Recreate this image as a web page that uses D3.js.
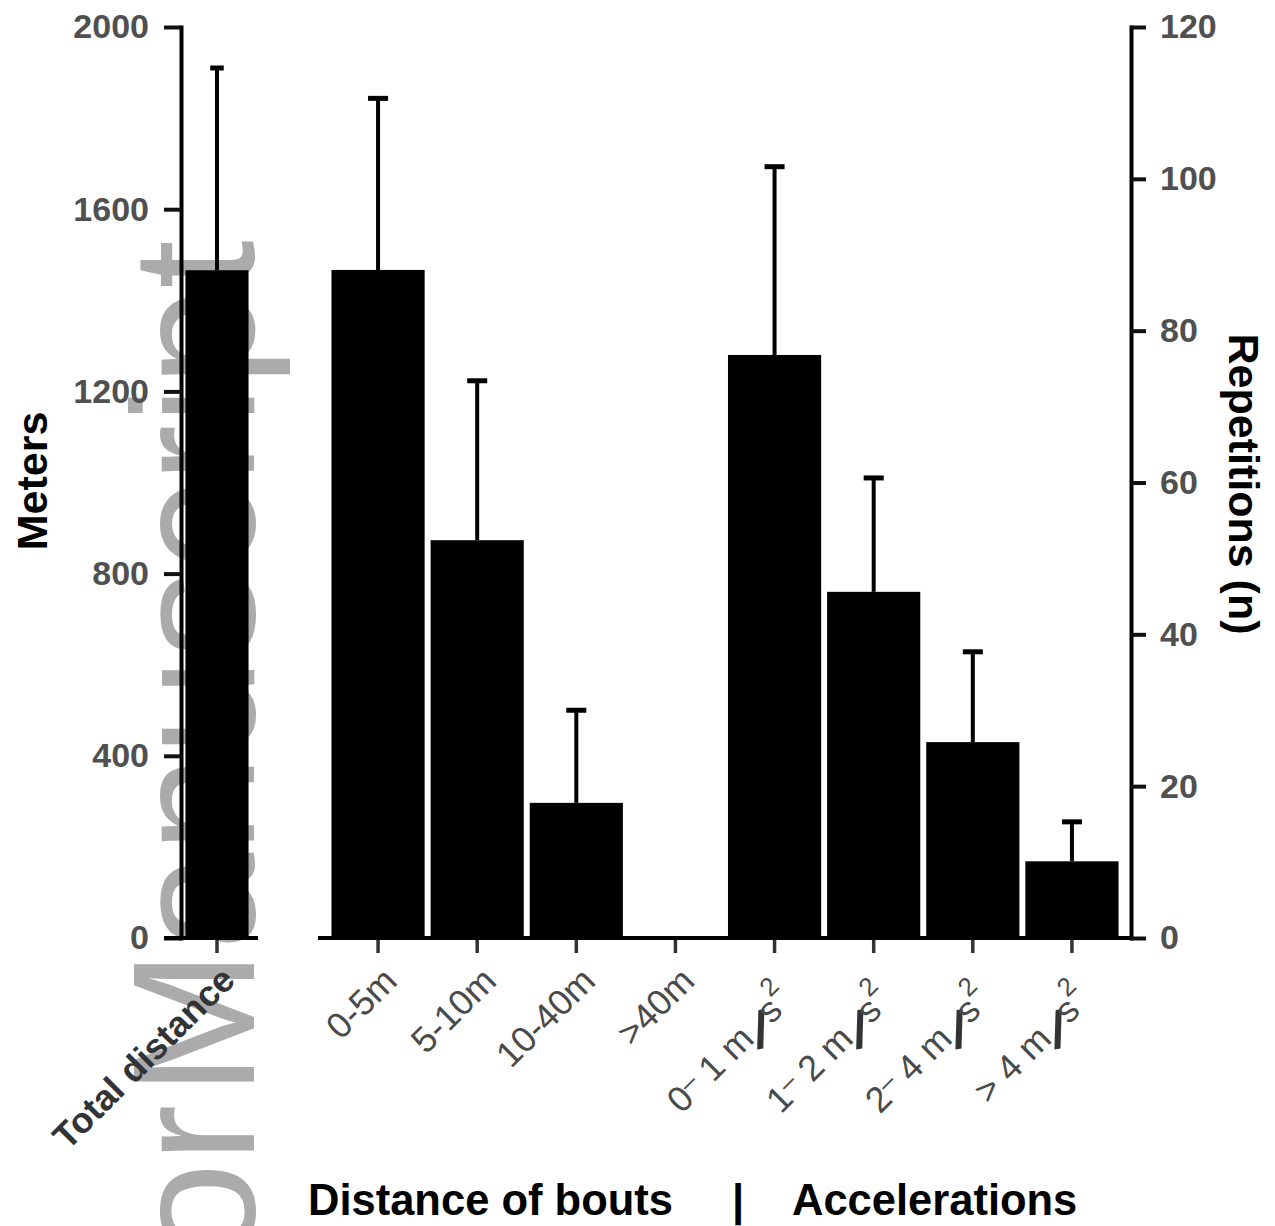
<!DOCTYPE html>
<html><head><meta charset="utf-8">
<script src="https://cdn.jsdelivr.net/npm/d3@7"></script>
<style>body{margin:0;background:#fff;} svg{display:block;}</style>
</head><body>
<svg id="chart" width="1275" height="1226"></svg>
<script>
// ---- data ----
const totalCategories = ["Total distance"];
const totalMeters = [1466];
const totalSD = [444];

const boutCategories = ["0-5m", "5-10m", "10-40m", ">40m", "0-1", "1-2", "2-4", ">4"];
const boutRepetitions = [88.0, 52.4, 17.8, 0, 76.8, 45.6, 25.8, 10.1];
const boutSD = [22.6, 21.0, 12.2, 0, 24.8, 15.0, 11.9, 5.2];
const accelLabelParts = {
  "0-1": ["0", "1"], "1-2": ["1", "2"], "2-4": ["2", "4"], ">4": [">", "4"]
};

const meterTicks = [0, 400, 800, 1200, 1600, 2000];
const repTicks = [0, 20, 40, 60, 80, 100, 120];

// ---- layout ----
const svg = d3.select("#chart");
const yBase = 938, yTop = 27;
const yLeft = d3.scaleLinear().domain([0, 2000]).range([yBase, yTop]);
const yRight = d3.scaleLinear().domain([0, 120]).range([yBase, yTop]);
const xLeft = d3.scaleBand().domain(totalCategories).range([176, 258]).paddingInner(0).paddingOuter(0.15);
const xRight = d3.scaleBand().domain(boutCategories).range([328.5, 1121.5]).paddingInner(0.06).paddingOuter(0.03);

// watermark
svg.append("text")
  .attr("transform", "translate(254,240) rotate(-90)")
  .attr("text-anchor", "end")
  .attr("font-family", "Liberation Sans, Arial, sans-serif")
  .attr("font-size", 175)
  .attr("word-spacing", -40)
  .attr("fill", "#ababab")
  .text("Author Manuscript");

// bars
const capFrac = 0.215;
function drawBars(g, cats, vals, sds, x, y) {
  g.selectAll("rect.bar").data(cats).join("rect")
    .attr("class", "bar")
    .attr("x", d => x(d)).attr("width", x.bandwidth())
    .attr("y", (d, i) => y(vals[i])).attr("height", (d, i) => yBase - y(vals[i]))
    .attr("fill", "#000");
  const eb = g.selectAll("g.err").data(cats.filter((d, i) => sds[i] > 0)).join("g").attr("class", "err");
  eb.append("line")
    .attr("x1", d => x(d) + x.bandwidth() / 2).attr("x2", d => x(d) + x.bandwidth() / 2)
    .attr("y1", d => y(vals[cats.indexOf(d)]))
    .attr("y2", d => y(vals[cats.indexOf(d)] + sds[cats.indexOf(d)]))
    .attr("stroke", "#000").attr("stroke-width", 4);
  eb.append("line")
    .attr("x1", d => x(d) + x.bandwidth() / 2 - x.bandwidth() * capFrac / 2)
    .attr("x2", d => x(d) + x.bandwidth() / 2 + x.bandwidth() * capFrac / 2)
    .attr("y1", d => y(vals[cats.indexOf(d)] + sds[cats.indexOf(d)]))
    .attr("y2", d => y(vals[cats.indexOf(d)] + sds[cats.indexOf(d)]))
    .attr("stroke", "#000").attr("stroke-width", 5);
}
drawBars(svg.append("g"), totalCategories, totalMeters, totalSD, xLeft, yLeft);
drawBars(svg.append("g"), boutCategories, boutRepetitions, boutSD, xRight, yRight);

// y axes
const tickFont = "Liberation Sans, Arial, sans-serif";
const gL = svg.append("g").attr("transform", "translate(181,0)")
  .call(d3.axisLeft(yLeft).tickValues(meterTicks).tickSize(17).tickSizeOuter(0).tickPadding(15).tickFormat(d3.format("d")));
const gR = svg.append("g").attr("transform", "translate(1131,0)")
  .call(d3.axisRight(yRight).tickValues(repTicks).tickSize(15).tickSizeOuter(0).tickPadding(14).tickFormat(d3.format("d")));
[gL, gR].forEach(g => {
  g.select(".domain").attr("stroke", "#000").attr("stroke-width", 4).attr("stroke-linecap", "square");
  g.selectAll(".tick line").attr("stroke", "#111").attr("stroke-width", 4);
  g.selectAll(".tick text").attr("font-family", tickFont).attr("font-weight", "bold")
    .attr("font-size", 34).attr("fill", "#505050");
});

// x baselines
const gXL = svg.append("g").attr("transform", `translate(0,${yBase})`)
  .call(d3.axisBottom(xLeft).tickSize(15).tickSizeOuter(0).tickFormat(""));
const gXR = svg.append("g").attr("transform", `translate(0,${yBase})`)
  .call(d3.axisBottom(xRight).tickSize(15).tickSizeOuter(0).tickFormat(""));
[gXL, gXR].forEach(g => {
  g.select(".domain").attr("stroke", "none");
  g.selectAll(".tick line").attr("stroke", "#333").attr("stroke-width", 3.5);
});
svg.append("line").attr("x1", 164).attr("x2", 258).attr("y1", yBase).attr("y2", yBase)
  .attr("stroke", "#000").attr("stroke-width", 4);
svg.append("line").attr("x1", 318).attr("x2", 1131).attr("y1", yBase).attr("y2", yBase)
  .attr("stroke", "#000").attr("stroke-width", 4);

// x tick labels
const labRot = -45;
svg.append("text")
  .attr("transform", `translate(${xLeft("Total distance") + xLeft.bandwidth() / 2 + 20},${yBase + 44}) rotate(${labRot})`)
  .attr("text-anchor", "end").attr("font-family", tickFont).attr("font-weight", "bold")
  .attr("font-size", 36).attr("fill", "#333").text("Total distance");

boutCategories.forEach(c => {
  const cx = xRight(c) + xRight.bandwidth() / 2;
  const acc = !!accelLabelParts[c];
  const dx = acc ? 20 : 21, dy = acc ? 64 : 45;
  const t = svg.append("text")
    .attr("transform", `translate(${cx + dx},${yBase + dy}) rotate(${labRot})`)
    .attr("text-anchor", "end").attr("font-family", tickFont)
    .attr("font-size", 36).attr("fill", "#4a4a4a");
  if (acc) {
    const [a, b] = accelLabelParts[c];
    if (a === ">") {
      t.append("tspan").text("> ");
    } else {
      t.append("tspan").text(a);
      t.append("tspan").attr("font-size", 26).attr("dy", -10).text("–");
      t.append("tspan").attr("dy", 10).text(" ");
    }
    t.append("tspan").text(b + " m");
    t.append("tspan").attr("font-size", 52).attr("font-weight", "bold").attr("rotate", 36)
      .attr("dx", -5).attr("dy", 6).attr("fill", "#333").text("/");
    t.append("tspan").attr("dx", 13).attr("dy", -6).text("s");
    t.append("tspan").attr("font-size", 26).attr("dy", -20).text("2");
  } else {
    t.text(c);
  }
});

// bottom titles
const titleFont = "Liberation Sans, Arial, sans-serif";
svg.append("text").attr("x", 308).attr("y", 1215).attr("font-family", titleFont).attr("font-weight", "bold")
  .attr("font-size", 43.5).attr("fill", "#000").text("Distance of bouts");
svg.append("text").attr("x", 738).attr("y", 1215).attr("text-anchor", "middle").attr("font-family", titleFont).attr("font-weight", "bold")
  .attr("font-size", 43.5).attr("fill", "#000").text("|");
svg.append("text").attr("x", 792).attr("y", 1215).attr("font-family", titleFont).attr("font-weight", "bold")
  .attr("font-size", 43.5).attr("fill", "#000").text("Accelerations");

// axis titles
svg.append("text").attr("transform", "translate(47,481) rotate(-90)").attr("text-anchor", "middle")
  .attr("font-family", titleFont).attr("font-weight", "bold").attr("font-size", 43).attr("fill", "#000").text("Meters");
svg.append("text").attr("transform", "translate(1229,484) rotate(90)").attr("text-anchor", "middle")
  .attr("font-family", titleFont).attr("font-weight", "bold").attr("font-size", 43).attr("fill", "#000").text("Repetitions (n)");
</script>
</body></html>
